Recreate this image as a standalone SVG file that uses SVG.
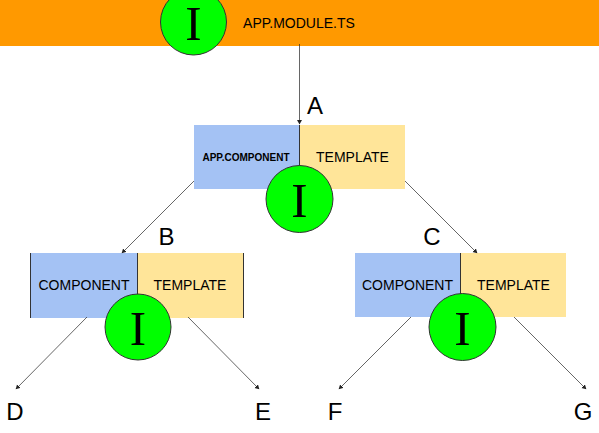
<svg xmlns="http://www.w3.org/2000/svg" width="599" height="433" viewBox="0 0 599 433">
<style>
text{font-family:"Liberation Sans",Arial,sans-serif;fill:#000}
.t{font-size:14px;text-anchor:middle}
.l{font-size:24px;text-anchor:middle}
.i{font-family:"Liberation Serif","Times New Roman",serif;font-size:49px;text-anchor:middle}
.c{fill:#00ff00;stroke:#333;stroke-width:1}
.b{fill:#a4c2f4}
.y{fill:#ffe599}
.e{stroke:#333;stroke-width:1;fill:none}
.a{stroke:#333;stroke-width:.75;fill:none;marker-end:url(#h)}
</style>
<defs><marker id="h" markerWidth="6" markerHeight="6" refX="4" refY="2.5" orient="auto" markerUnits="userSpaceOnUse"><path d="M0 0L4.500 2.500L0 5Z" fill="#222"/></marker></defs>
<g id="module"><rect x="0" y="0" width="599" height="46" fill="#ff9900"/><text class="t" x="299" y="27.500">APP.MODULE.TS</text></g>
<g id="app"><rect class="b" x="194" y="125" width="106" height="64"/><rect class="y" x="300" y="125" width="105" height="64"/><path class="e" d="M299.500 125V170"/><text x="246" y="161" font-size="10" font-weight="bold" text-anchor="middle">APP.COMPONENT</text><text class="t" x="352.500" y="162">TEMPLATE</text></g>
<g id="left"><rect class="b" x="30" y="253" width="107.500" height="65"/><rect class="y" x="137.500" y="253" width="106" height="65"/><path class="e" d="M30.500 253V318M243.500 253V318M137.500 253V296"/><text class="t" x="84" y="290">COMPONENT</text><text class="t" x="190" y="290">TEMPLATE</text></g>
<g id="right"><rect class="b" x="355" y="253" width="106" height="64"/><rect class="y" x="461" y="253" width="105" height="64"/><path class="e" d="M460.500 253V296"/><text class="t" x="407.500" y="290">COMPONENT</text><text class="t" x="513.500" y="290">TEMPLATE</text></g>
<g id="connectors">
<path class="a" d="M299.500 44V124"/>
<path class="a" d="M194 181L122 253"/>
<path class="a" d="M405 181L477 253"/>
<path class="a" d="M87 317L16 389"/>
<path class="a" d="M188 317L259 389"/>
<path class="a" d="M411 317L339 389"/>
<path class="a" d="M514 317L586 389"/>
</g>
<g id="i1"><circle class="c" cx="193.500" cy="22" r="33"/><text class="i" x="193.500" y="40">I</text></g>
<g id="i2"><circle class="c" cx="299.500" cy="199" r="33.500"/><text class="i" x="299.500" y="217">I</text></g>
<g id="i3"><circle class="c" cx="138" cy="327" r="33"/><text class="i" x="138" y="345">I</text></g>
<g id="i4"><circle class="c" cx="462.500" cy="327" r="33.500"/><text class="i" x="462.500" y="345">I</text></g>
<g id="labels">
<text class="l" x="315" y="114">A</text>
<text class="l" x="166.500" y="245">B</text>
<text class="l" x="432" y="245">C</text>
<text class="l" x="15" y="420">D</text>
<text class="l" x="263" y="420">E</text>
<text class="l" x="335" y="420">F</text>
<text class="l" x="583" y="420">G</text>
</g>
</svg>
